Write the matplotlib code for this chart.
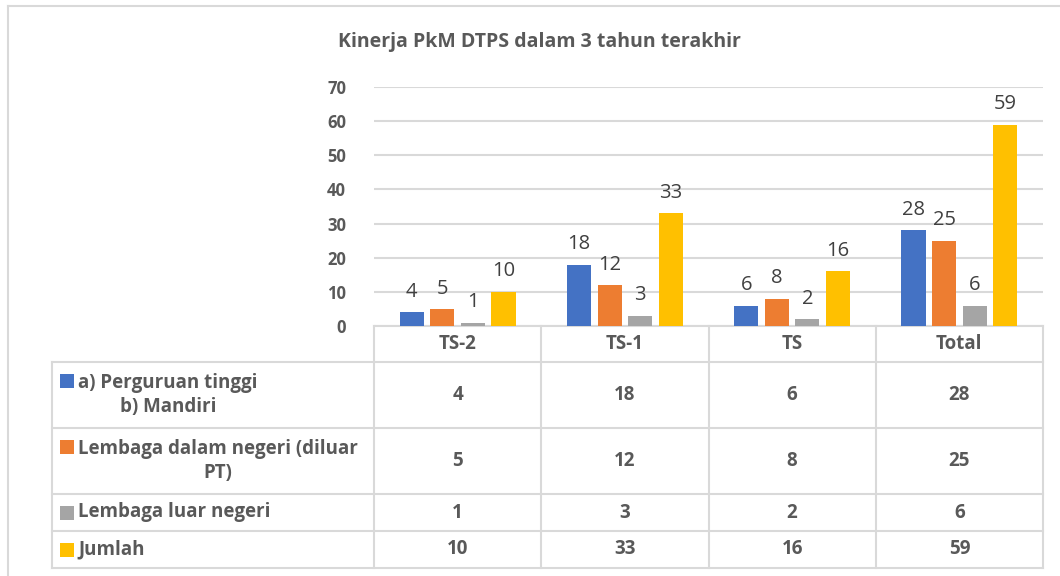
import matplotlib.pyplot as plt
from matplotlib.lines import Line2D
import numpy as np

# data
kategori = ['TS-2', 'TS-1', 'TS', 'Total']
seri = ['a) Perguruan tinggi\nb) Mandiri',
        'Lembaga dalam negeri (diluar\nPT)',
        'Lembaga luar negeri',
        'Jumlah']
perguruan_tinggi = [4, 18, 6, 28]
dalam_negeri = [5, 12, 8, 25]
luar_negeri = [1, 3, 2, 6]
jumlah = [10, 33, 16, 59]
nilai = [perguruan_tinggi, dalam_negeri, luar_negeri, jumlah]
warna = ['#4472C4', '#ED7D31', '#A5A5A5', '#FFC000']

plt.rcParams['font.family'] = ['Open Sans', 'DejaVu Sans']

W, H = 1060, 576
fig = plt.figure(figsize=(W / 100, H / 100), dpi=100)

def fx(px):
    return px / W

def fy(py):
    return 1 - py / H

# frame of chart area
garis = '#D9D9D9'
fig.add_artist(Line2D([fx(8), fx(8)], [fy(6), 0], color=garis, lw=1.5))
fig.add_artist(Line2D([fx(8), 1], [fy(6), fy(6)], color=garis, lw=1.5))

# title
fig.text(fx(539), fy(42), 'Kinerja PkM DTPS dalam 3 tahun terakhir',
         ha='center', va='center', fontsize=14, fontweight='bold', color='#595959')

# bar chart
x0, x1, y0, y1 = 374, 1043, 326, 87
ax = fig.add_axes([fx(x0), fy(y0), (x1 - x0) / W, (y0 - y1) / H])
x = np.arange(len(kategori))
lebar = 0.144
jarak = 0.183
for i, (vals, c) in enumerate(zip(nilai, warna)):
    pos = x + (i - 1.5) * jarak
    bars = ax.bar(pos, vals, width=lebar, color=c, zorder=3)
    ax.bar_label(bars, labels=[str(v) for v in vals], padding=7.5,
                 fontsize=14.5, color='#404040')

ax.set_xlim(-0.5, 3.5)
ax.set_ylim(0, 70)
ax.set_yticks(range(0, 71, 10))
ax.set_xticks([])
ax.grid(axis='y', color=garis, lw=1.5, zorder=0)
for s in ['top', 'right', 'left']:
    ax.spines[s].set_visible(False)
ax.spines['bottom'].set_color(garis)
ax.spines['bottom'].set_linewidth(1.5)
ax.tick_params(axis='y', length=0, pad=20, labelsize=12, labelcolor='#595959')
for t in ax.get_yticklabels():
    t.set_fontweight('bold')

# data table
tl, tb = 52, 568
baris = [326, 362, 428, 494, 531, 568]
cw = (x1 - x0) / len(kategori)
tax = fig.add_axes([fx(tl), fy(tb), (x1 - tl) / W, (tb - y0) / H])
xl = -0.5 - (x0 - tl) / cw
tax.set_xlim(xl, 3.5)
tax.set_ylim(tb, y0)
tax.axis('off')

def xd(px):
    return -0.5 + (px - x0) / cw

for yb in baris[1:]:
    tax.plot([xl, 3.5], [yb, yb], color=garis, lw=1.5, clip_on=False)
for xv in np.arange(-0.5, 3.6, 1.0):
    tax.plot([xv, xv], [baris[0], baris[-1]], color=garis, lw=1.5, clip_on=False)
tax.plot([xl, xl], [baris[1], baris[-1]], color=garis, lw=1.5, clip_on=False)

teks = '#595959'
fs = 13.5
for j, k in enumerate(kategori):
    tax.text(j, (baris[0] + baris[1]) / 2, k, ha='center', va='center',
             fontsize=fs, fontweight='bold', color=teks)

for i, (lab, vals, c) in enumerate(zip(seri, nilai, warna)):
    ymid = (baris[i + 1] + baris[i + 2]) / 2
    multi = '\n' in lab
    ykey = ymid - 14.5 if multi else ymid
    tax.plot([xd(66.5)], [ykey], marker='s', ms=9.4, color=c, mew=0, clip_on=False)
    tax.text(xd(78), ymid, lab, ha='left', va='center', multialignment='center',
             fontsize=fs, fontweight='bold', color=teks, linespacing=1.3)
    for j, v in enumerate(vals):
        tax.text(j, ymid, str(v), ha='center', va='center',
                 fontsize=fs, fontweight='bold', color=teks)

fig.savefig('out.png', dpi=100)
